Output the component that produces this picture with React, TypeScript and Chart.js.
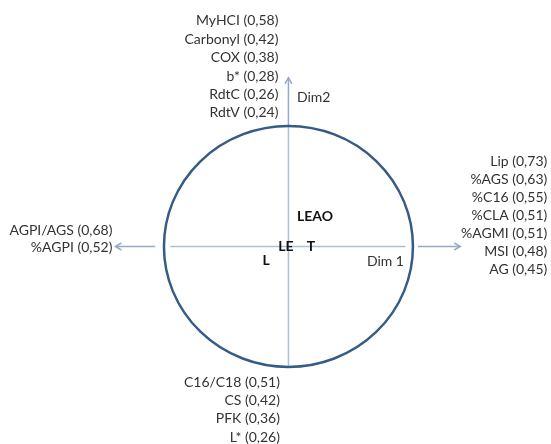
import React, { useEffect, useRef } from "react";
import { Chart, registerables } from "chart.js";

Chart.register(...registerables);

// Group positions on the factorial plane (Dim 1, Dim 2)
const groupNames = ["LEAO", "LE", "T", "L"];
const groupDim1 = [0.213, -0.02, 0.18, -0.18];
const groupDim2 = [0.245, 0.0, 0.0, -0.12];

// Variables correlated with each axis direction
const topVars = ["MyHCI", "Carbonyl", "COX", "b*", "RdtC", "RdtV"];
const topLoads = ["0,58", "0,42", "0,38", "0,28", "0,26", "0,24"];
const rightVars = ["Lip", "%AGS", "%C16", "%CLA", "%AGMI", "MSI", "AG"];
const rightLoads = ["0,73", "0,63", "0,55", "0,51", "0,51", "0,48", "0,45"];
const leftVars = ["AGPI/AGS", "%AGPI"];
const leftLoads = ["0,68", "0,52"];
const bottomVars = ["C16/C18", "CS", "PFK", "L*"];
const bottomLoads = ["0,51", "0,42", "0,36", "0,26"];
const axisTitles = ["Dim 1", "Dim2"];

const FONT = "Lato";
const TEXT_COLOR = "#333333";
const CIRCLE_COLOR = "#355b87";
const AXIS_COLOR = "#adc0d6";
const ARROW_COLOR = "#93abc8";

const circlePlugin = {
  id: "corrCircle",
  beforeDatasetsDraw(chart: any) {
    const ctx: CanvasRenderingContext2D = chart.ctx;
    const xs = chart.scales.x;
    const ys = chart.scales.y;
    const px = (v: number) => xs.getPixelForValue(v);
    const py = (v: number) => ys.getPixelForValue(v);
    const cx = px(0);
    const cy = py(0);
    ctx.save();
    // axes
    ctx.strokeStyle = AXIS_COLOR;
    ctx.lineWidth = 1.5;
    ctx.beginPath();
    ctx.moveTo(cx, py(-1));
    ctx.lineTo(cx, py(1));
    ctx.stroke();
    ctx.beginPath();
    ctx.moveTo(px(-0.95), cy);
    ctx.lineTo(px(0.94), cy);
    ctx.stroke();
    ctx.strokeStyle = ARROW_COLOR;
    ctx.beginPath();
    ctx.moveTo(cx, py(1));
    ctx.lineTo(cx, py(1.4));
    ctx.moveTo(px(-1.07), cy);
    ctx.lineTo(px(-1.39), cy);
    ctx.moveTo(px(1.04), cy);
    ctx.lineTo(px(1.38), cy);
    ctx.stroke();
    // arrowheads
    const head = (x: number, y: number, dx: number, dy: number) => {
      const L = 6;
      const W = 3.5;
      const nx = -dy;
      const ny = dx;
      ctx.beginPath();
      ctx.moveTo(x - dx * L + nx * W, y - dy * L + ny * W);
      ctx.lineTo(x, y);
      ctx.lineTo(x - dx * L - nx * W, y - dy * L - ny * W);
      ctx.stroke();
    };
    head(cx, py(1.4), 0, -1);
    head(px(-1.39), cy, -1, 0);
    head(px(1.38), cy, 1, 0);
    // circle
    ctx.strokeStyle = CIRCLE_COLOR;
    ctx.lineWidth = 2.5;
    ctx.beginPath();
    ctx.ellipse(cx, cy, px(1) - cx, cy - py(1), 0, 0, Math.PI * 2);
    ctx.stroke();

    // variable labels
    ctx.fillStyle = TEXT_COLOR;
    ctx.font = `14px ${FONT}`;
    ctx.textBaseline = "middle";
    ctx.textAlign = "right";
    const lh = 18.4;
    const topTip = py(1.4);
    topVars.forEach((n, i) => {
      const y = topTip + 35 - (topVars.length - 1 - i) * lh;
      ctx.fillText(`${n} (${topLoads[i]})`, cx - 10, y);
    });
    const rightEdge = px(1.38) + 87;
    rightVars.forEach((n, i) => {
      const y = cy - 31 + (i - 3) * 18;
      ctx.fillText(`${n} (${rightLoads[i]})`, rightEdge, y);
    });
    leftVars.forEach((n, i) => {
      const y = cy - 16.5 + i * 17;
      ctx.fillText(`${n} (${leftLoads[i]})`, px(-1.39) - 3, y);
    });
    const bottomTop = py(-1) + 15;
    bottomVars.forEach((n, i) => {
      ctx.fillText(`${n} (${bottomLoads[i]})`, cx - 8.5, bottomTop + i * lh);
    });
    ctx.textAlign = "left";
    ctx.fillText(axisTitles[0], px(0.63), cy + 14.5);
    ctx.fillText(axisTitles[1], cx + 8.5, topTip + 20);

    // group labels
    const meta = chart.getDatasetMeta(0);
    ctx.font = `bold 14px ${FONT}`;
    ctx.fillStyle = "#111111";
    ctx.textAlign = "center";
    meta.data.forEach((el: any, i: number) => {
      ctx.fillText(groupNames[i], el.x, el.y);
    });
    ctx.restore();
  },
};

export default function App() {
  const ref = useRef<HTMLCanvasElement | null>(null);
  useEffect(() => {
    document.body.style.margin = "0";
    const canvas = ref.current!;
    const chart = new Chart(canvas, {
      type: "scatter",
      data: {
        datasets: [
          {
            label: "Groupes",
            data: groupDim1.map((x, i) => ({ x, y: groupDim2[i] })),
            pointRadius: 0,
            pointHoverRadius: 0,
          },
        ],
      },
      options: {
        animation: false,
        responsive: false,
        events: [],
        layout: { padding: 0 },
        plugins: { legend: { display: false }, tooltip: { enabled: false } },
        scales: {
          x: { type: "linear", display: false, min: -2.317, max: 2.109 },
          y: { type: "linear", display: false, min: -1.639, max: 2.0456 },
        },
      },
      plugins: [circlePlugin],
    });
    return () => chart.destroy();
  }, []);
  return (
    <div style={{ width: 551, height: 444, background: "#ffffff" }}>
      <canvas ref={ref} width={551} height={444} style={{ display: "block" }} />
    </div>
  );
}
